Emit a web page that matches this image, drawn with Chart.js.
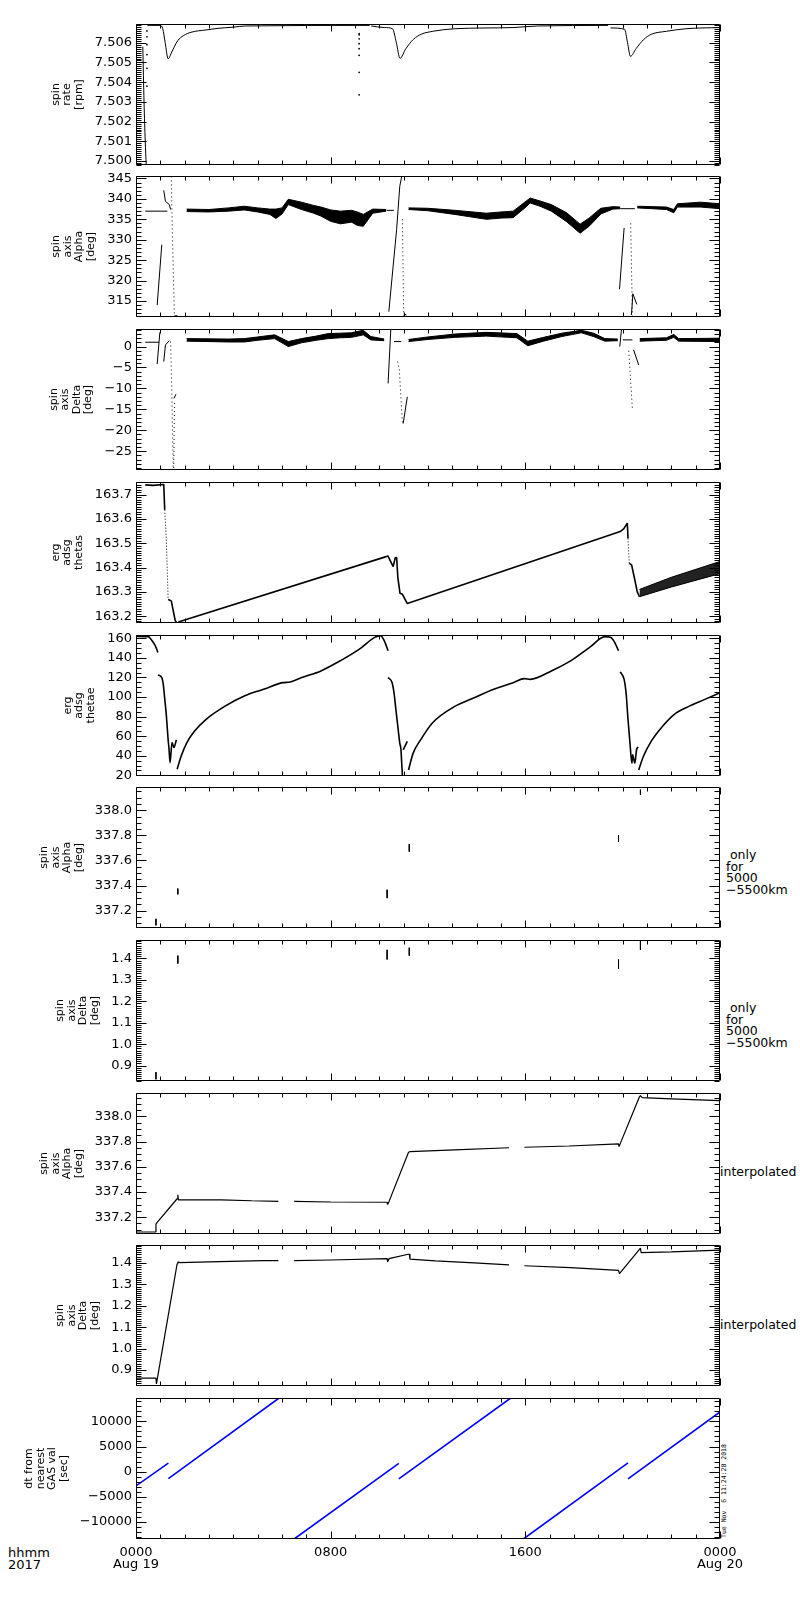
<!DOCTYPE html>
<html>
<head>
<meta charset="utf-8">
<script src="https://cdn.jsdelivr.net/npm/chart.js@4.4.1/dist/chart.umd.min.js"></script>
<style>
html,body{margin:0;padding:0;background:#fff;}
body{width:800px;height:1600px;position:relative;overflow:hidden;font-family:"DejaVu Sans",sans-serif;color:#000;}
canvas{position:absolute;left:0;}
.note{position:absolute;font-size:12.5px;line-height:11.7px;white-space:pre;}
.xlab{position:absolute;font-size:13px;line-height:11.7px;white-space:pre;}
.stamp{position:absolute;font-family:"DejaVu Sans Mono",monospace;font-size:6.5px;line-height:6px;white-space:pre;transform:rotate(-90deg);transform-origin:0 0;}
</style>
</head>
<body>
<div class="note" style="left:726px;top:849px"> only
for
5000
−5500km</div>
<div class="note" style="left:726px;top:1002px"> only
for
5000
−5500km</div>
<div class="note" style="left:720px;top:1166px">interpolated</div>
<div class="note" style="left:720px;top:1319px">interpolated</div>
<div class="xlab" style="left:8px;top:1547px">hhmm
2017</div>
<div class="stamp" style="left:721px;top:1538px">Tue Nov  6 11:24:28 2018</div>
<script>
// ---------------- x axis (hours of 2017 Aug 19) ----------------
const hourTicks = [0, 8, 16, 24];
const hourLabels = [['0000', 'Aug 19'], '0800', '1600', ['0000', 'Aug 20']];

// ---------------- panel 1: spin rate [rpm] ----------------
const spinRateHours = [0.28,0.33,0.38,0.42,null,
  0.47,1.0,1.1,1.2,1.32,1.47,1.71,1.95,2.26,2.89,3.37,4.0,4.5,9.6,null,
  9.67,10.2,10.54,10.7,10.85,11.09,11.4,11.72,12.2,13.1,15.5,16.5,19.4,null,
  19.5,20.08,20.2,20.32,20.55,20.87,21.18,21.8,22.6,24];
const spinRateValues = [7.5058,7.5030,7.5010,7.4998,null,
  7.50688,7.50688,7.50671,7.5060,7.50519,7.50553,7.5061,7.50636,7.50653,7.50665,7.50673,7.50679,7.50685,7.50688,null,
  7.50685,7.50677,7.50671,7.5060,7.50521,7.5057,7.50617,7.50643,7.50658,7.50671,7.50677,7.50685,7.50688,null,
  7.50675,7.50668,7.5060,7.50531,7.5057,7.50617,7.50643,7.50658,7.50671,7.50677];
const spinRateDotHours = [0.45,0.45,0.45,0.45,0.45,0.45,9.17,9.17,9.17,9.17,9.17,9.17,9.17,9.17];
const spinRateDotValues = [7.5066,7.5063,7.5059,7.5054,7.5047,7.5038,7.50646,7.5062,7.50595,7.5057,7.50536,7.5045,7.50336,7.5064];

// ---------------- panel 2: spin axis Alpha [deg] (all) ----------------
const alphaLineHours = [0.38,1.29,null,0.87,1.06,null,1.14,1.21,1.37,1.42,null,10.39,10.71,10.84,10.92,null,
  19.87,20.06,null,20.36,20.42,20.58,null,10.3,10.6,null,19.9,20.5,null,1.58,1.7,null,11.0,11.12];
const alphaLineValues = [337.0,337.0,null,314.0,328.8,null,342.1,339.4,338.6,337.4,null,312.4,332.5,343.1,345.5,null,
  317.9,332.9,null,311.6,316.8,314.2,null,337.2,337.2,null,337.6,337.6,null,311.4,311.4,null,311.8,311.6];
const alphaDottedHours = [1.45,1.50,1.58,null,10.95,11.0,null,20.33,20.4];
const alphaDottedValues = [345.5,330,311.2,null,335,311.4,null,334,311.4];
const alphaBandHours = [2.08,3.0,3.8,4.45,5.0,5.5,5.75,6.0,6.26,6.8,7.3,7.6,8.0,8.4,8.86,9.1,9.34,9.73,10.28,null,
  11.2,12.0,13.1,14.4,15.0,15.5,16.04,16.2,16.6,17.07,17.7,18.25,18.64,19.1,19.6,19.9,null,
  20.6,21.8,22.1,22.25,23.2,24];
const alphaBandUpper = [337.5,337.4,337.8,338.2,337.8,337.5,337.5,337.8,339.9,339.2,338.4,338.0,337.3,337.0,337.2,336.8,336.2,337.5,337.4,null,
  337.8,337.7,337.2,336.5,336.8,337.0,339.5,340.2,339.5,338.6,336.6,333.8,335.4,337.7,338.1,338.0,null,
  338.2,338.0,337.4,338.8,339.2,338.8];
const alphaBandLower = [336.9,336.8,337.0,337.3,336.8,336.2,335.2,336.3,338.6,337.4,336.5,335.8,334.5,333.9,334.3,333.5,333.3,336.5,337.0,null,
  337.4,337.1,336.2,335.0,335.3,335.4,338.1,339.0,338.2,337.0,334.4,331.6,333.4,336.3,337.5,337.6,null,
  337.8,337.4,336.6,338.0,338.0,337.6];

// ---------------- panel 3: spin axis Delta [deg] (all) ----------------
const deltaLineHours = [0.38,0.95,null,0.87,0.98,null,1.14,1.21,1.37,null,1.56,1.64,null,10.36,10.47,null,
  10.98,11.15,null,19.88,19.95,null,20.45,20.66,null,10.6,10.9,null,20.0,20.4];
const deltaLineValues = [1.04,1.04,null,-4.2,3.4,null,-3.6,0.4,1.4,null,-12.4,-11.4,null,-8.8,4.0,null,
  -18.4,-12.0,null,0.0,4.0,null,-0.8,-4.4,null,1.2,1.2,null,1.6,1.6];
const deltaDottedHours = [1.42,1.47,1.53,null,1.58,1.55,null,10.75,10.82,10.95,null,20.25,20.4];
const deltaDottedValues = [1.2,-10,-29.5,null,-13.5,-29.5,null,-3.6,-5.4,-18.4,null,-1,-15];
const deltaBandHours = [2.08,3.8,4.45,5.0,5.7,6.26,6.8,7.4,7.9,8.4,8.86,9.34,9.65,10.2,null,
  11.2,12.0,13.1,14.4,15.65,16.1,16.75,17.5,18.3,18.8,19.27,19.8,null,
  20.7,21.8,22.1,22.3,24];
const deltaBandUpper = [1.9,1.8,1.9,2.3,2.8,1.2,1.9,2.5,3.1,3.2,3.3,3.9,2.4,1.8,null,
  1.7,2.3,3.0,3.4,3.1,1.3,2.2,3.2,3.9,3.2,1.9,1.8,null,
  1.9,2.1,2.9,1.9,2.0];
const deltaBandLower = [1.3,1.1,1.1,1.5,1.9,0.0,0.9,1.5,1.9,2.1,2.2,2.8,1.6,1.4,null,
  1.2,1.7,2.2,2.5,2.1,0.2,1.3,2.4,3.3,2.4,1.3,1.4,null,
  1.3,1.5,2.2,1.3,1.2];

// ---------------- panel 4: erg adsg thetas ----------------
const thetaSHours = [0.38,0.7,1.14,1.18,null,1.32,1.45,1.61,1.69,1.77,10.28,10.35,10.57,10.65,10.71,10.76,10.85,10.95,11.15,
  19.9,20.05,20.19,20.22,null,20.27,20.37,20.5,20.6,20.69];
const thetaSValues = [163.740,163.738,163.742,163.638,null,163.269,163.263,163.183,163.170,163.177,163.445,163.448,163.404,163.44,163.441,163.36,163.294,163.29,163.252,
  163.548,163.56,163.583,163.52,null,163.418,163.41,163.349,163.30,163.28];
const thetaSDottedHours = [1.18,1.24,1.29,1.32,null,20.22,20.27];
const thetaSDottedValues = [163.638,163.528,163.376,163.269,null,163.52,163.418];
const thetaSBandHours = [20.69,22.0,24];
const thetaSBandUpper = [163.31,163.36,163.425];
const thetaSBandLower = [163.28,163.32,163.375];

// ---------------- panel 5: erg adsg thetae ----------------
const thetaEHours = [0,0.5,0.66,0.79,0.9,null,
  0.9,1.06,1.12,1.17,1.25,1.32,1.36,1.4,1.48,1.56,1.66,null,
  1.69,1.85,2.08,2.4,2.87,3.66,4.45,5.24,6.03,6.34,6.81,7.6,8.39,9.18,9.81,10.05,10.2,10.36,null,
  10.36,10.52,10.6,10.68,10.76,10.84,10.89,10.92,10.95,null,
  10.98,11.15,null,
  11.2,11.39,11.7,12.18,13.12,13.9,14.7,15.5,15.96,16.2,17.07,17.86,18.64,19.27,19.5,19.67,19.83,null,
  19.9,20.06,20.14,20.22,20.3,20.38,20.41,20.5,20.57,20.63,null,
  20.66,20.85,21.17,21.64,22.11,22.74,23.38,24];
const thetaEValues = [162,161.7,157.6,152.5,145.6,null,
  122.6,119.9,113,101,80.4,56.4,46,33,53.5,48.4,56.4,null,
  26.2,39.2,53,65,77,90.7,101,107.9,114.7,115.4,119.9,126.7,137,149,161,162.7,157.6,147.3,null,
  120,115,105,87.3,70,53,46,32,19.5,null,
  46,54.7,null,
  25.5,42.7,56.4,73.5,90.7,99.3,107.9,114.7,118.8,118.1,126.7,137,150.7,161.7,161,155.9,147.3,null,
  125.7,118,104.4,77,53,32.4,41,32.4,46,49,null,
  25.5,39.2,54.7,70.1,82.1,90.7,97.6,104.4];

// ---------------- panels 6/7: only for 5000-5500 km ----------------
const onlyHours = [0.82,0.82,0.82,null,1.72,1.72,1.72,null,10.32,10.32,10.32,null,11.23,11.23,11.23,null,19.83,19.83,19.83,null,20.73,20.73,20.73];
const alphaOnlyValues = [337.135,337.11,337.083,null,337.376,337.355,337.33,null,337.367,337.335,337.30,null,337.73,337.70,337.67,null,337.80,337.775,337.75,null,338.164,338.145,338.124];
const deltaOnlyValues = [0.869,0.852,0.836,null,1.413,1.395,1.376,null,1.44,1.418,1.395,null,1.45,1.43,1.413,null,1.395,1.372,1.352,null,1.483,1.463,1.44];

// ---------------- panels 8/9: interpolated ----------------
const alphaInterpHours = [0,0.82,0.82,0.88,1.69,1.72,1.74,3.5,4.76,5.85,null,
  6.5,8.0,10.32,10.34,10.4,11.2,11.25,13.1,15.33,null,
  15.96,17.8,19.83,19.85,20.69,20.73,20.8,22.0,24];
const alphaInterpValues = [337.082,337.082,337.144,337.16,337.346,337.377,337.337,337.337,337.33,337.325,null,
  337.325,337.32,337.318,337.30,337.325,337.715,337.72,337.735,337.751,null,
  337.755,337.765,337.782,337.76,338.156,338.165,338.15,338.14,338.125];
const deltaInterpHours = [0,0.82,0.84,1.69,1.72,1.8,3.0,5.24,5.85,null,
  6.5,8.0,10.32,10.34,10.4,11.23,11.26,12.3,13.9,15.33,null,
  15.96,17.85,19.83,19.87,20.69,20.73,20.76,22.0,24];
const deltaInterpValues = [0.862,0.862,0.835,1.396,1.405,1.402,1.405,1.411,1.411,null,
  1.411,1.414,1.42,1.405,1.42,1.442,1.418,1.41,1.40,1.391,null,
  1.387,1.378,1.365,1.35,1.464,1.47,1.448,1.452,1.46];

// ---------------- panel 10: dt from nearest GAS val [sec] ----------------
const dtHours = [0,1.33,null,1.33,5.88,null,6.5,10.8,null,10.8,15.4,null,15.92,20.22,null,20.22,24];
const dtValues = [-2850,1700,null,-1400,14650,null,-13400,1650,null,-1450,14650,null,-13400,1735,null,-1445,11870];

// ---------------- axis setup per panel ----------------
const panelTitles = [
  ['spin','rate','[rpm]'],
  ['spin','axis','Alpha','[deg]'],
  ['spin','axis','Delta','[deg]'],
  ['erg','adsg','thetas'],
  ['erg','adsg','thetae'],
  ['spin','axis','Alpha','[deg]'],
  ['spin','axis','Delta','[deg]'],
  ['spin','axis','Alpha','[deg]'],
  ['spin','axis','Delta','[deg]'],
  ['dt from','nearest','GAS val','[sec]']
];
const yMin   = [7.4998, 311.1, -29.5, 163.172, 19.3, 337.062, 0.828, 337.066, 0.825, -13400];
const yMax   = [7.50695, 345.6, 4.2, 163.752, 163.4, 338.185, 1.486, 338.186, 1.484, 14650];
const yMinor = [0.0001, 1, 1, 0.01, 5, 0.05, 0.01, 0.05, 0.01, 1000];
const yMajor = [0.001, 5, 5, 0.1, 20, 0.2, 0.1, 0.2, 0.1, 5000];
const yDecimals = [3, 0, 0, 1, 0, 1, 1, 1, 1, 0];

// ---------------- layout (pixels) ----------------
const panelTops = [24, 176, 329, 482, 635, 787, 940, 1093, 1245, 1398];
const titlePads = [50, 50.5, 48, 50, 62, 38.5, 54.5, 38.5, 54.5, 23.5];
const PAD = 14, PLOT_H = 141, AXIS_W = 136, RIGHT_PAD = 80, XAXIS_H = 40;

Chart.defaults.font.family = 'DejaVu Sans';
Chart.defaults.color = '#000';

function isMajor(v, major) {
  const r = v / major;
  return Math.abs(r - Math.round(r)) < 1e-6;
}
function tickValues(min, max, step) {
  const out = [];
  let k = Math.ceil(min / step - 1e-9);
  for (;; k++) {
    const v = +(k * step).toFixed(8);
    if (v > max) break;
    out.push(v);
  }
  return out;
}
function fmt(v, dec) {
  const s = Math.abs(v).toFixed(dec);
  return (v < 0 ? '\u2212' : '') + s;
}
function pts(hours, values) {
  const out = [];
  let last = 0;
  for (let i = 0; i < hours.length; i++) {
    if (values[i] === null || hours[i] === null) { out.push({x: last, y: null}); continue; }
    last = hours[i];
    out.push({x: hours[i], y: values[i]});
  }
  return out;
}
function ds(hours, values, style) {
  return Object.assign({
    data: pts(hours, values), borderColor: '#000', backgroundColor: '#000',
    borderWidth: 1, pointRadius: 0, showLine: true, spanGaps: false, tension: 0,
    fill: false, borderJoinStyle: 'bevel'
  }, style || {});
}

const idlFrame = {
  id: 'idlFrame',
  afterDraw(chart, args, opts) {
    const {ctx, chartArea: a} = chart;
    const xs = chart.scales.x, ys = chart.scales.y;
    const L = Math.round(a.left) + 0.5, R = Math.round(a.right) - 0.5;
    const T = Math.round(a.top) + 0.5, B = Math.round(a.bottom) - 0.5;
    ctx.save();
    ctx.strokeStyle = '#000';
    ctx.lineWidth = 1;
    ctx.beginPath();
    ys.ticks.forEach(t => {
      const p = Math.round(ys.getPixelForValue(t.value)) + 0.5;
      const len = isMajor(t.value, opts.major) ? 10 : 5;
      ctx.moveTo(L, p); ctx.lineTo(L + len, p);
      ctx.moveTo(R, p); ctx.lineTo(R - len, p);
    });
    for (let h = 0; h <= 24; h++) {
      const p = Math.round(xs.getPixelForValue(h)) + 0.5;
      const len = h % 8 === 0 ? 7 : 4;
      ctx.moveTo(p, T); ctx.lineTo(p, T + len);
      ctx.moveTo(p, B); ctx.lineTo(p, B - len);
    }
    ctx.rect(L, T, R - L, B - T);
    ctx.stroke();
    ctx.restore();
  }
};

const smooth = {cubicInterpolationMode: 'monotone'};
const panelData = [
  [ds(spinRateHours, spinRateValues, smooth), ds(spinRateDotHours, spinRateDotValues, {showLine: false, pointRadius: 0.9, pointBorderWidth: 0})],
  [ds(alphaBandHours, alphaBandLower), ds(alphaBandHours, alphaBandUpper, {fill: '-1'}), ds(alphaLineHours, alphaLineValues), ds(alphaDottedHours, alphaDottedValues, {borderDash: [1, 3]})],
  [ds(deltaBandHours, deltaBandLower), ds(deltaBandHours, deltaBandUpper, {fill: '-1'}), ds(deltaLineHours, deltaLineValues), ds(deltaDottedHours, deltaDottedValues, {borderDash: [1, 3]})],
  [ds(thetaSHours, thetaSValues, {borderWidth: 1.6}), ds(thetaSDottedHours, thetaSDottedValues, {borderDash: [1, 2]}),
   ds(thetaSBandHours, thetaSBandLower), ds(thetaSBandHours, thetaSBandUpper, {fill: '-1', backgroundColor: '#222'})],
  [ds(thetaEHours, thetaEValues, Object.assign({borderWidth: 1.6}, smooth))],
  [ds(onlyHours, alphaOnlyValues, {borderWidth: 1})],
  [ds(onlyHours, deltaOnlyValues, {borderWidth: 1})],
  [ds(alphaInterpHours, alphaInterpValues, {borderWidth: 1.2})],
  [ds(deltaInterpHours, deltaInterpValues, {borderWidth: 1.2})],
  [ds(dtHours, dtValues, {borderWidth: 1.6, borderColor: '#0000ff', backgroundColor: '#0000ff'})]
];

panelData.forEach((datasets, i) => {
  const last = i === panelData.length - 1;
  const h = PLOT_H + 2 * PAD + (last ? XAXIS_H : 0);
  const canvas = document.createElement('canvas');
  canvas.width = 800;
  canvas.height = h;
  canvas.style.top = (panelTops[i] - PAD) + 'px';
  canvas.style.width = '800px';
  canvas.style.height = h + 'px';
  document.body.appendChild(canvas);
  const yTicks = tickValues(yMin[i], yMax[i], yMinor[i]);
  new Chart(canvas, {
    type: 'line',
    data: {datasets},
    plugins: [idlFrame],
    options: {
      responsive: false,
      animation: false,
      events: [],
      layout: {padding: {left: 0, right: RIGHT_PAD, top: PAD, bottom: PAD}},
      plugins: {legend: {display: false}, tooltip: {enabled: false}, idlFrame: {major: yMajor[i]}},
      scales: {
        x: {
          type: 'linear', min: 0, max: 24, display: last,
          grid: {display: false, drawTicks: false}, border: {display: false},
          afterBuildTicks: s => { s.ticks = hourTicks.map(v => ({value: v})); },
          afterFit: s => { s.height = last ? XAXIS_H : 0; },
          ticks: {
            autoSkip: false, maxRotation: 0, minRotation: 0, padding: 8, color: '#000',
            font: {family: 'DejaVu Sans', size: 13, lineHeight: 0.9},
            callback: v => { const k = hourTicks.indexOf(v); return k >= 0 ? hourLabels[k] : ''; }
          }
        },
        y: {
          type: 'linear', min: yMin[i], max: yMax[i],
          grid: {display: false, drawTicks: false}, border: {display: false},
          afterBuildTicks: s => { s.ticks = yTicks.map(v => ({value: v})); },
          afterFit: s => { s.width = AXIS_W; },
          ticks: {
            autoSkip: false, padding: 4, color: '#000',
            font: {family: 'DejaVu Sans', size: 13, lineHeight: 1},
            callback: v => isMajor(v, yMajor[i]) ? fmt(v, yDecimals[i]) : ''
          },
          title: {
            display: true, text: panelTitles[i], color: '#000',
            font: {family: 'DejaVu Sans', size: 11, lineHeight: 11.5 / 11},
            padding: {top: titlePads[i], bottom: 0}
          }
        }
      }
    }
  });
});
</script>
</body>
</html>
